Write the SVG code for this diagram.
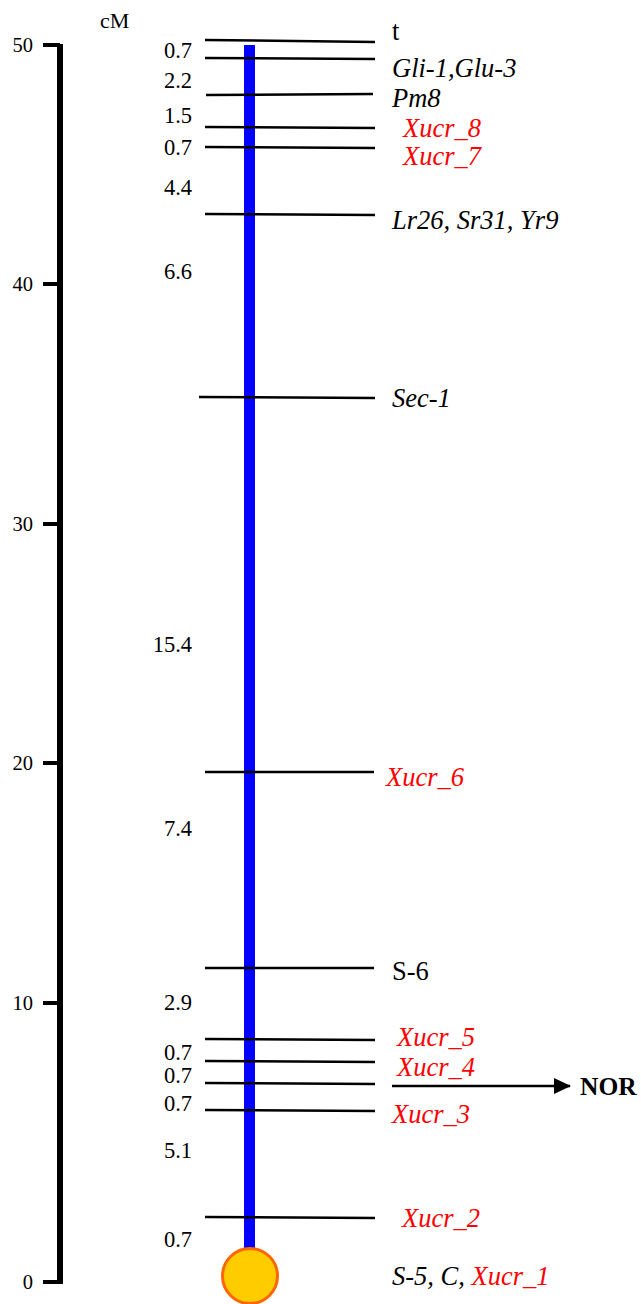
<svg xmlns="http://www.w3.org/2000/svg" width="641" height="1304" viewBox="0 0 641 1304" font-family="Liberation Serif, Times New Roman, serif">
<style>
.sc{font-size:20.5px;fill:#000;text-anchor:end}
.num{font-size:22.5px;fill:#000;text-anchor:end}
.lab{font-size:26.5px;font-style:italic;fill:#000}
.up{font-style:normal}
.red{fill:#FF0000}
.mk{stroke:#000;stroke-width:2.5;fill:none}
.tick{stroke:#000;stroke-width:4}
</style>
<defs>
<marker id="ah" markerWidth="18" markerHeight="16" refX="16" refY="8" orient="auto" markerUnits="userSpaceOnUse">
<path d="M0,0 L17,8 L0,16 Z" fill="#000"/>
</marker>
</defs>
<rect width="641" height="1304" fill="#fff"/>
<g id="scale">
<line x1="60" y1="44" x2="60" y2="1284" stroke="#000" stroke-width="6"/>
<line class="tick" x1="43" y1="45" x2="60" y2="45"/>
<line class="tick" x1="43" y1="284" x2="60" y2="284"/>
<line class="tick" x1="43" y1="524" x2="60" y2="524"/>
<line class="tick" x1="43" y1="763" x2="60" y2="763"/>
<line class="tick" x1="43" y1="1003" x2="60" y2="1003"/>
<line class="tick" x1="43" y1="1282" x2="60" y2="1282"/>
<text class="sc" x="33" y="52">50</text>
<text class="sc" x="33" y="291">40</text>
<text class="sc" x="33" y="531">30</text>
<text class="sc" x="33" y="770">20</text>
<text class="sc" x="33" y="1010">10</text>
<text class="sc" x="33" y="1289">0</text>
<text x="100" y="28" font-size="22">cM</text>
</g>
<g id="chromosome">
<rect x="244" y="45" width="11" height="1210" fill="#0000FF"/>
<circle cx="250" cy="1276" r="27.5" fill="#FFCC00" stroke="#FF6600" stroke-width="3"/>
</g>
<g id="markers">
<line class="mk" x1="205" y1="40" x2="375" y2="42"/>
<line class="mk" x1="205" y1="58" x2="375" y2="59"/>
<line class="mk" x1="206" y1="95" x2="373" y2="94"/>
<line class="mk" x1="205" y1="127" x2="375" y2="128"/>
<line class="mk" x1="205" y1="147" x2="375" y2="148"/>
<line class="mk" x1="205" y1="214" x2="375" y2="215"/>
<line class="mk" x1="199" y1="397" x2="375" y2="398"/>
<line class="mk" x1="205" y1="772" x2="374" y2="772"/>
<line class="mk" x1="205" y1="968" x2="374" y2="968"/>
<line class="mk" x1="205" y1="1039" x2="375" y2="1040"/>
<line class="mk" x1="205" y1="1061" x2="375" y2="1062"/>
<line class="mk" x1="205" y1="1083" x2="375" y2="1084"/>
<line class="mk" x1="205" y1="1110" x2="375" y2="1111"/>
<line class="mk" x1="205" y1="1217" x2="375" y2="1218"/>
</g>
<g id="distances">
<text class="num" x="192" y="58">0.7</text>
<text class="num" x="192" y="88">2.2</text>
<text class="num" x="192" y="123">1.5</text>
<text class="num" x="192" y="155">0.7</text>
<text class="num" x="192" y="195">4.4</text>
<text class="num" x="192" y="279">6.6</text>
<text class="num" x="192" y="652">15.4</text>
<text class="num" x="192" y="836">7.4</text>
<text class="num" x="192" y="1010">2.9</text>
<text class="num" x="192" y="1060">0.7</text>
<text class="num" x="192" y="1083">0.7</text>
<text class="num" x="192" y="1111">0.7</text>
<text class="num" x="192" y="1158">5.1</text>
<text class="num" x="192" y="1247">0.7</text>
</g>
<g id="labels">
<text class="lab up" x="392" y="40">t</text>
<text class="lab" x="392" y="77">Gli-1,Glu-3</text>
<text class="lab" x="392" y="107">Pm8</text>
<text class="lab red" x="403" y="137">Xucr_8</text>
<text class="lab red" x="403" y="165">Xucr_7</text>
<text class="lab" x="392" y="229">Lr26, Sr31, Yr9</text>
<text class="lab" x="392" y="407">Sec-1</text>
<text class="lab red" x="386" y="786">Xucr_6</text>
<text class="lab up" x="392" y="980">S-6</text>
<text class="lab red" x="397" y="1046">Xucr_5</text>
<text class="lab red" x="397" y="1076">Xucr_4</text>
<text class="lab red" x="392" y="1123">Xucr_3</text>
<text class="lab red" x="402" y="1227">Xucr_2</text>
<text class="lab" x="392" y="1285">S-5, C, <tspan class="red">Xucr_1</tspan></text>
</g>
<g id="connectors">
<line x1="392" y1="1086" x2="570" y2="1086" stroke="#000" stroke-width="2.5" marker-end="url(#ah)"/>
</g>
<g id="nor">
<text x="580" y="1095" font-size="25.5" font-weight="bold">NOR</text>
</g>
</svg>
